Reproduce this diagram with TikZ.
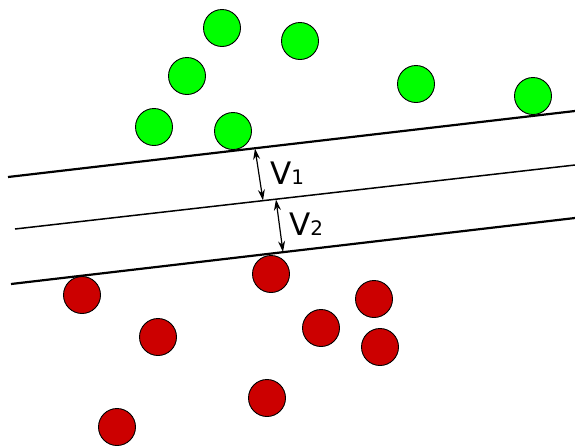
\documentclass[tikz,border=0pt]{standalone}
\usepackage{fontspec}
\setmainfont{DejaVu Sans}
\usetikzlibrary{arrows.meta}
\definecolor{ggreen}{HTML}{00FF00}
\definecolor{rred}{HTML}{CC0000}
\tikzset{
  gball/.style={circle, draw=black, line width=0.9pt, fill=ggreen, minimum size=37pt, inner sep=0pt},
  rball/.style={circle, draw=black, line width=0.9pt, fill=rred, minimum size=37pt, inner sep=0pt},
  thickline/.style={line width=2.2pt},
  thinline/.style={line width=1.5pt},
  marginarrow/.style={line width=1.2pt, {Stealth[length=11pt,width=7pt]}-{Stealth[length=11pt,width=7pt]}},
  lbl/.style={inner sep=0pt, anchor=base west, font=\fontsize{31}{31}\selectfont}
}
\begin{document}
\begin{tikzpicture}[x=1pt,y=-1pt]
\useasboundingbox (0,0) rectangle (575,445);
% green
\node[gball] (g1) at (222,28) {};
\node[gball] (g2) at (300,41) {};
\node[gball] (g3) at (187,76) {};
\node[gball] (g4) at (416,84) {};
\node[gball] (g5) at (533,96) {};
\node[gball] (g6) at (154,127) {};
\node[gball] (g7) at (233,131) {};
% red
\node[rball] (r1) at (271,274) {};
\node[rball] (r2) at (82,295) {};
\node[rball] (r3) at (374,299) {};
\node[rball] (r4) at (321,328) {};
\node[rball] (r5) at (158,337) {};
\node[rball] (r6) at (380,347) {};
\node[rball] (r7) at (267,398) {};
\node[rball] (r8) at (117,427) {};
% lines
\coordinate (t1) at (8,177);
\coordinate (t2) at (575,111);
\coordinate (m1) at (15,229);
\coordinate (m2) at (575,165);
\coordinate (b1) at (11,284);
\coordinate (b2) at (575,218);
\draw[thickline] (t1) -- (t2);
\draw[thinline] (m1) -- (m2);
\draw[thickline] (b1) -- (b2);
% arrows
\coordinate (a1) at (255,148.5);
\coordinate (a2) at (263,200.5);
\coordinate (a3) at (276,199.5);
\coordinate (a4) at (283,252);
\draw[marginarrow] (a1) -- (a2);
\draw[marginarrow] (a3) -- (a4);
% labels
\node[lbl] (v1) at (270,184) {V\fontsize{20}{20}\selectfont 1};
\node[lbl] (v2) at (289,235) {V\fontsize{20}{20}\selectfont 2};
\end{tikzpicture}
\end{document}
